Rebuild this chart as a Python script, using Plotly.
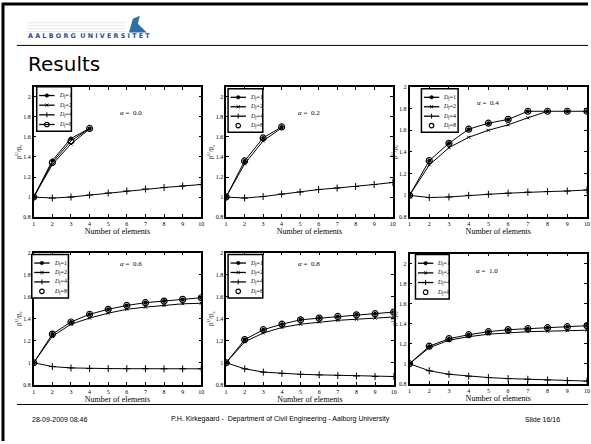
import plotly.graph_objects as go

elements = list(range(1, 11))
alphas = ["0.0", "0.2", "0.4", "0.6", "0.8", "1.0"]
df_labels = ["1", "2", "4", "8"]

# Df=1 (upper curve), Df=2 (second upper curve), Df=4 (lower curve), Df=8 (circles)
df1 = [
    [1.0, 1.365, 1.585, 1.685],
    [1.0, 1.36, 1.59, 1.70],
    [1.0, 1.32, 1.48, 1.61, 1.665, 1.70, 1.775, 1.775, 1.775, 1.775],
    [1.0, 1.26, 1.37, 1.44, 1.485, 1.52, 1.545, 1.56, 1.575, 1.59],
    [1.0, 1.21, 1.30, 1.35, 1.39, 1.405, 1.42, 1.435, 1.445, 1.46],
    [1.0, 1.175, 1.25, 1.29, 1.32, 1.34, 1.35, 1.36, 1.37, 1.38],
]
df2 = [
    [1.0, 1.325, 1.53, 1.68],
    [1.0, 1.33, 1.56, 1.69],
    [1.0, 1.28, 1.44, 1.535, 1.60, 1.65, 1.715, 1.775],
    [1.0, 1.24, 1.35, 1.405, 1.45, 1.485, 1.505, 1.52, 1.535, 1.54],
    [1.0, 1.19, 1.27, 1.32, 1.35, 1.37, 1.385, 1.395, 1.405, 1.415],
    [1.0, 1.16, 1.235, 1.27, 1.295, 1.31, 1.32, 1.325, 1.33, 1.335],
]
df4 = [
    [1.0, 0.99, 1.0, 1.02, 1.04, 1.06, 1.08, 1.095, 1.11, 1.125],
    [1.0, 0.99, 1.005, 1.03, 1.05, 1.075, 1.09, 1.105, 1.125, 1.145],
    [1.0, 0.98, 0.985, 1.0, 1.01, 1.02, 1.03, 1.035, 1.04, 1.05],
    [1.0, 0.965, 0.953, 0.948, 0.947, 0.946, 0.946, 0.945, 0.945, 0.945],
    [1.0, 0.945, 0.915, 0.903, 0.895, 0.89, 0.885, 0.88, 0.875, 0.875],
    [1.0, 0.93, 0.895, 0.875, 0.862, 0.852, 0.845, 0.838, 0.832, 0.827],
]
df8 = [
    [1.0, 1.345, 1.56, 1.685],
    [1.0, 1.36, 1.59, 1.70],
    [1.0, 1.32, 1.48, 1.61, 1.665, 1.70, 1.775, 1.775, 1.775, 1.775],
    [1.0, 1.26, 1.37, 1.44, 1.485, 1.52, 1.545, 1.56, 1.575, 1.59],
    [1.0, 1.21, 1.30, 1.35, 1.39, 1.405, 1.42, 1.435, 1.445, 1.46],
    [1.0, 1.175, 1.25, 1.29, 1.32, 1.34, 1.35, 1.36, 1.37, 1.38],
]
y_tops = [2.1, 2.1, 2.0, 2.0, 2.0, 2.1]

W, H = 591, 444
# panel boxes in pixels: x0, x1, y0, y1 (top-down)
boxes = [
    (32, 201, 85, 217), (226, 394, 85, 217), (411, 590, 85, 217),
    (32, 201, 253, 387), (226, 395, 253, 387), (411, 590, 254, 386),
]
alpha_pos = [(117, 105), (310, 105), (503, 95), (117, 265), (310, 265), (502, 272)]
# legend boxes: x0, x1, y0, y1
legend_boxes = [(35, 70, 85, 130), (228, 263, 87, 131), (423, 460, 87, 131),
                (30, 67, 255, 299), (228, 263, 255, 299), (417, 451, 255, 300)]

serif = "Liberation Serif"


def px(x):
    return x / W


def py(y):
    return 1 - y / H


fig = go.Figure()
layout = dict(width=W, height=H, margin=dict(l=0, r=0, t=0, b=0),
              paper_bgcolor="white", plot_bgcolor="white", showlegend=False)
annotations = []
shapes = []
blk = "black"

for i in range(6):
    n = i + 1
    xa = "x" if n == 1 else f"x{n}"
    ya = "y" if n == 1 else f"y{n}"
    series = [df1[i], df2[i], df4[i], df8[i]]
    styles = [
        dict(mode="lines+markers", marker=dict(symbol="circle", size=4, color=blk)),
        dict(mode="lines+markers", marker=dict(symbol="x-thin", size=3, line=dict(width=1, color=blk))),
        dict(mode="lines+markers", marker=dict(symbol="cross-thin", size=5, line=dict(width=1, color=blk))),
        dict(mode="lines+markers" if i == 0 else "markers",
             marker=dict(symbol="circle-open", size=6, line=dict(width=1.2, color=blk))),
    ]
    for k, (vals, st) in enumerate(zip(series, styles)):
        fig.add_trace(go.Scatter(
            x=elements[:len(vals)], y=vals, xaxis=xa, yaxis=ya,
            name=f"Df={df_labels[k]}", line=dict(color=blk, width=1), **st))
    x0, x1, y0, y1 = boxes[i]
    axis_common = dict(showline=True, linecolor=blk, linewidth=1.5, mirror="ticks",
                       ticks="inside", ticklen=3, tickcolor=blk, showgrid=False,
                       zeroline=False, tickfont=dict(family=serif, size=6, color=blk))
    layout["xaxis" if n == 1 else f"xaxis{n}"] = dict(
        domain=[px(x0), px(x1)], anchor=ya, range=[1, 10], dtick=1,
        title=dict(text="Number of elements", font=dict(family=serif, size=8, color=blk), standoff=2),
        **axis_common)
    layout["yaxis" if n == 1 else f"yaxis{n}"] = dict(
        domain=[py(y1), py(y0)], anchor=xa, range=[0.8, y_tops[i]], dtick=0.2,
        title=dict(text="β<sup>U</sup>/β<sub>e</sub>", font=dict(family=serif, size=7, color=blk), standoff=0),
        **axis_common)

    # hand-drawn legend box
    lx0, lx1, ly0, ly1 = legend_boxes[i]
    shapes.append(dict(type="rect", xref="paper", yref="paper", x0=px(lx0), x1=px(lx1),
                       y0=py(ly1), y1=py(ly0), line=dict(color=blk, width=1.5), fillcolor="white",
                       layer="above"))
    step = (ly1 - ly0) / 4.6
    for k in range(4):
        cy = ly0 + step * (0.9 + k)
        sx0, sx1 = lx0 + 2.5, lx0 + 18
        cx = (sx0 + sx1) / 2
        draw_line = not (k == 3 and i > 0)
        if draw_line:
            shapes.append(dict(type="line", xref="paper", yref="paper", x0=px(sx0), x1=px(sx1),
                               y0=py(cy), y1=py(cy), line=dict(color=blk, width=1.3), layer="above"))
        if k == 0:
            r = 1.8
            shapes.append(dict(type="circle", xref="paper", yref="paper", x0=px(cx - r), x1=px(cx + r),
                               y0=py(cy + r), y1=py(cy - r), fillcolor=blk,
                               line=dict(color=blk, width=0.5), layer="above"))
        elif k == 1:
            d = 1.5
            for sgn in (1, -1):
                shapes.append(dict(type="line", xref="paper", yref="paper", x0=px(cx - d), x1=px(cx + d),
                                   y0=py(cy - sgn * d), y1=py(cy + sgn * d),
                                   line=dict(color=blk, width=1), layer="above"))
        elif k == 2:
            d = 2.5
            shapes.append(dict(type="line", xref="paper", yref="paper", x0=px(cx), x1=px(cx),
                               y0=py(cy - d), y1=py(cy + d), line=dict(color=blk, width=1), layer="above"))
        else:
            r = 2.3
            shapes.append(dict(type="circle", xref="paper", yref="paper", x0=px(cx - r), x1=px(cx + r),
                               y0=py(cy + r), y1=py(cy - r), fillcolor="rgba(0,0,0,0)",
                               line=dict(color=blk, width=1.1), layer="above"))
        annotations.append(dict(text=f"<i>D</i><sub><i>f</i></sub>={df_labels[k]}",
                                x=px(sx1 + 2), y=py(cy), xref="paper", yref="paper",
                                xanchor="left", yanchor="middle", showarrow=False,
                                font=dict(family=serif, size=6, color=blk)))

    ax, ay = alpha_pos[i]
    annotations.append(dict(text=f"<i>α</i> =  {alphas[i]}", x=px(ax), y=py(ay),
                            xref="paper", yref="paper", showarrow=False,
                            font=dict(family=serif, size=7, color=blk)))

logo_text = "  ".join(" ".join(w) for w in ["AALBORG", "UNIVERSITET"])
annotations += [
    dict(text="Results", x=px(24), y=py(62), xref="paper", yref="paper", xanchor="left",
         yanchor="middle", showarrow=False, font=dict(family="DejaVu Sans", size=20, color=blk)),
    dict(text=f"<b>{logo_text}</b>", x=px(24), y=py(33.5), xref="paper", yref="paper",
         xanchor="left", yanchor="middle", showarrow=False,
         font=dict(family="DejaVu Sans", size=6.4, color="#2b4f8c")),
    dict(text="28-09-2009 08:46", x=px(28), y=py(422), xref="paper", yref="paper",
         xanchor="left", yanchor="middle", showarrow=False,
         font=dict(family="Liberation Sans", size=7, color=blk)),
    dict(text="P.H. Kirkegaard -  Department of Civil Engineering - Aalborg University",
         x=px(281), y=py(422), xref="paper", yref="paper", yanchor="middle", showarrow=False,
         font=dict(family="Liberation Sans", size=7, color=blk)),
    dict(text="Slide 16/16", x=px(565), y=py(422), xref="paper", yref="paper",
         xanchor="right", yanchor="middle", showarrow=False,
         font=dict(family="Liberation Sans", size=7, color=blk)),
]
layout["annotations"] = annotations

for yy in (20, 23, 26, 29):
    shapes.append(dict(type="line", xref="paper", yref="paper", x0=px(25), x1=px(125),
                       y0=py(yy), y1=py(yy), line=dict(color="#e6e9ee", width=1)))
shapes += [
    dict(type="line", xref="paper", yref="paper", x0=px(15), x1=1, y0=py(43), y1=py(43),
         line=dict(color=blk, width=1)),
    dict(type="line", xref="paper", yref="paper", x0=px(15), x1=1, y0=py(407), y1=py(407),
         line=dict(color=blk, width=1)),
    dict(type="line", xref="paper", yref="paper", x0=px(1), x1=px(1), y0=0, y1=1,
         line=dict(color=blk, width=3)),
    dict(type="line", xref="paper", yref="paper", x0=0, x1=1, y0=py(1), y1=py(1),
         line=dict(color=blk, width=3)),
    dict(type="path", xref="paper", yref="paper",
         path=f"M {px(128)} {py(30)} L {px(132)} {py(16)} L {px(139)} {py(13)} L {px(137)} {py(21)} "
              f"L {px(146)} {py(30)} Z",
         fillcolor="#2e6fa8", line=dict(width=0)),
]
layout["shapes"] = shapes
fig.update_layout(**layout)
fig.write_html("out.html", config={"displayModeBar": False},
               post_script="document.body.style.margin='0';")
